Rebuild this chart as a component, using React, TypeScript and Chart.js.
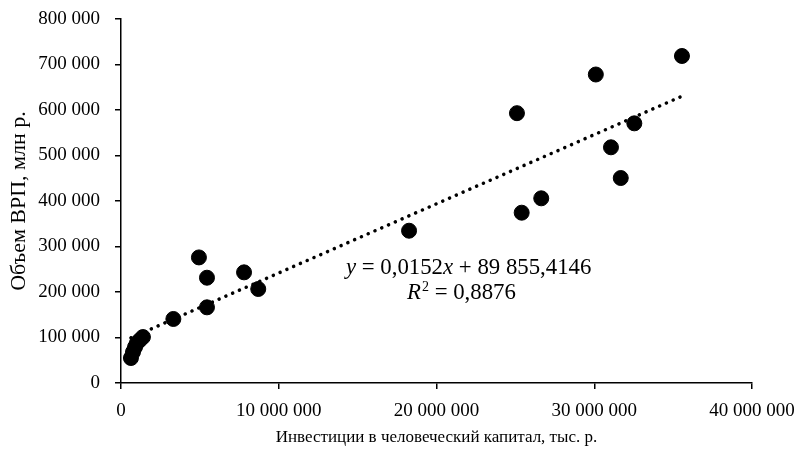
import React, { useEffect, useRef } from "react";
import { Chart, registerables } from "chart.js";

Chart.register(...registerables);

// Investments in human capital, thousand rubles
const investX: number[] = [
  630000, 760000, 890000, 1010000, 1200000, 1390000,
  3320000, 4940000, 5450000, 5450000, 7800000, 8700000,
  18260000, 25100000, 25400000, 26640000, 30100000, 31060000,
  31680000, 32540000, 35560000,
];
// Gross regional product, million rubles
const grpY: number[] = [
  54900, 68000, 79000, 88000, 94500, 101000,
  140700, 276000, 231400, 166300, 243200, 206600,
  334700, 593000, 374300, 405900, 678000, 518000,
  450500, 570700, 718700,
];

const trendSlope = 0.0152;
const trendIntercept = 89855.4146;
const r2Text = "0,8876";

const xTicks = [0, 10000000, 20000000, 30000000, 40000000];
const yTicks = [0, 100000, 200000, 300000, 400000, 500000, 600000, 700000, 800000];

const xTitle = "Инвестиции в человеческий капитал, тыс. р.";
const yTitle = "Объем ВРП, млн р.";

const FONT = "'Liberation Serif', 'Times New Roman', serif";
const EQ = 22.8;

const fmt = (v: number) => String(Math.round(v)).replace(/\B(?=(\d{3})+(?!\d))/g, " ");

const equationPlugin = {
  id: "equation",
  afterDatasetsDraw(chart: any) {
    const { ctx, scales } = chart;
    const xs = scales.x;
    const ys = scales.y;
    ctx.save();
    ctx.fillStyle = "#000";
    ctx.textBaseline = "middle";
    ctx.textAlign = "left";
    // line 1
    let x = xs.getPixelForValue(14260000);
    const y1 = ys.getPixelForValue(252000);
    ctx.font = `italic ${EQ}px ${FONT}`;
    ctx.fillText("y", x, y1);
    x += ctx.measureText("y").width;
    ctx.font = `${EQ}px ${FONT}`;
    const part1 = " = 0,0152";
    ctx.fillText(part1, x, y1);
    x += ctx.measureText(part1).width;
    ctx.font = `italic ${EQ}px ${FONT}`;
    ctx.fillText("x", x, y1);
    x += ctx.measureText("x").width;
    ctx.font = `${EQ}px ${FONT}`;
    ctx.fillText(" + 89 855,4146", x, y1);
    // line 2
    let x2 = xs.getPixelForValue(18130000);
    const y2 = ys.getPixelForValue(197000);
    ctx.font = `italic ${EQ}px ${FONT}`;
    ctx.fillText("R", x2, y2);
    x2 += ctx.measureText("R").width;
    ctx.font = `14px ${FONT}`;
    ctx.fillText("2", x2 + 1, y2 - 6);
    x2 += ctx.measureText("2").width + 1;
    ctx.font = `${EQ}px ${FONT}`;
    ctx.fillText(" = " + r2Text, x2, y2);
    ctx.restore();
  },
};

export default function App() {
  const ref = useRef<HTMLCanvasElement | null>(null);
  useEffect(() => {
    if (!ref.current) return;
    const xMin = Math.min(...investX);
    const xMax = Math.max(...investX);
    const trend = [
      { x: xMin, y: trendSlope * xMin + trendIntercept },
      { x: xMax, y: trendSlope * xMax + trendIntercept },
    ];
    const zeroPad = (s: any) => {
      s.paddingTop = 0;
      s.paddingBottom = 0;
      s.paddingLeft = 0;
      s.paddingRight = 0;
    };
    const chart = new Chart(ref.current, {
      type: "scatter",
      data: {
        datasets: [
          {
            type: "line",
            data: trend,
            borderColor: "#000",
            borderWidth: 3.5,
            borderDash: [0.1, 7.3],
            borderCapStyle: "round",
            pointRadius: 0,
            fill: false,
            order: 2,
          } as any,
          {
            data: investX.map((x, i) => ({ x, y: grpY[i] })),
            backgroundColor: "#000",
            borderColor: "#000",
            pointRadius: 7.5,
            pointHoverRadius: 7.5,
            order: 1,
          },
        ],
      },
      options: {
        animation: false,
        responsive: false,
        events: [],
        layout: { padding: { top: 19, right: 50, left: 0, bottom: 0 } },
        plugins: { legend: { display: false }, tooltip: { enabled: false } },
        scales: {
          x: {
            type: "linear",
            min: 0,
            max: 40000000,
            afterBuildTicks: (s: any) => {
              s.ticks = xTicks.map((v) => ({ value: v }));
            },
            afterFit: (s: any) => {
              s.height = 70;
              zeroPad(s);
            },
            ticks: {
              callback: (v: any) => fmt(Number(v)),
              color: "#000",
              font: { family: FONT, size: 19 },
              padding: 11,
              maxRotation: 0,
            },
            grid: {
              display: true,
              drawOnChartArea: false,
              drawTicks: true,
              tickLength: 6,
              color: "#000",
              lineWidth: 1.5,
            },
            border: { display: true, color: "#000", width: 1.5 },
            title: {
              display: true,
              text: xTitle,
              color: "#000",
              font: { family: FONT, size: 17 },
              padding: { top: 0, bottom: 5.5 },
            },
          },
          y: {
            type: "linear",
            min: 0,
            max: 800000,
            afterBuildTicks: (s: any) => {
              s.ticks = yTicks.map((v) => ({ value: v }));
            },
            afterFit: (s: any) => {
              s.width = 121;
              zeroPad(s);
            },
            ticks: {
              callback: (v: any) => fmt(Number(v)),
              color: "#000",
              font: { family: FONT, size: 19 },
              padding: 15,
            },
            grid: {
              display: true,
              drawOnChartArea: false,
              drawTicks: true,
              tickLength: 6,
              color: "#000",
              lineWidth: 1.5,
            },
            border: { display: true, color: "#000", width: 1.5 },
            title: {
              display: true,
              text: yTitle,
              color: "#000",
              font: { family: FONT, size: 22 },
              padding: { top: 6, bottom: 0 },
            },
          },
        },
      } as any,
      plugins: [equationPlugin],
    });
    return () => chart.destroy();
  }, []);
  return (
    <div style={{ position: "absolute", left: 0, top: 0, width: 802, height: 453, background: "#fff" }}>
      <canvas ref={ref} width={802} height={453} style={{ width: 802, height: 453 }} />
    </div>
  );
}
